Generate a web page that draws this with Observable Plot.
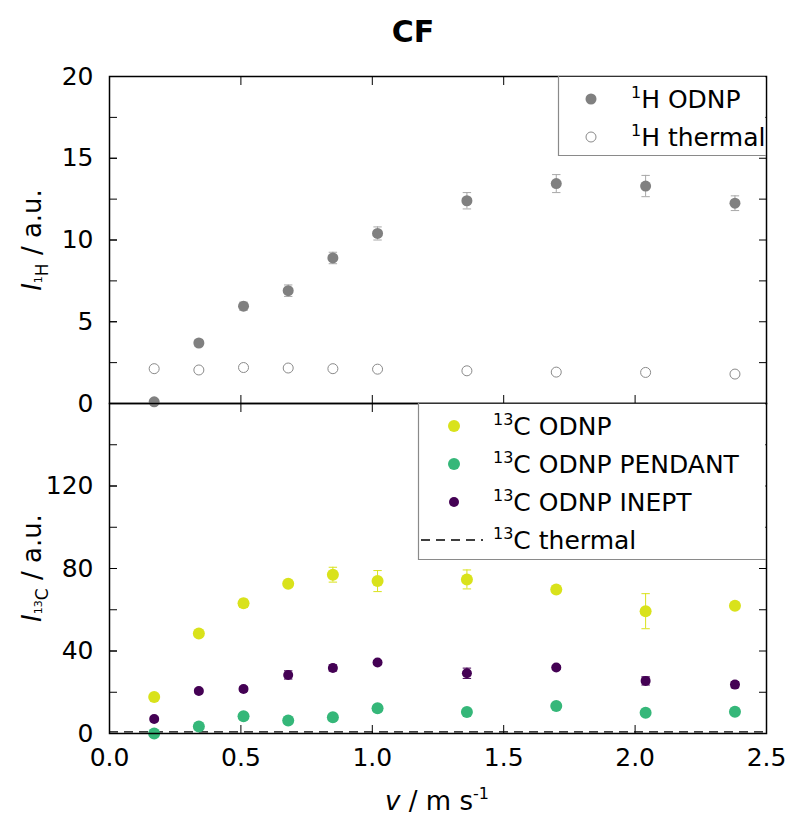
<!DOCTYPE html>
<html><head><meta charset="utf-8">
<script src="https://cdn.jsdelivr.net/npm/d3@7"></script>
<script src="https://cdn.jsdelivr.net/npm/@observablehq/plot@0.6"></script>
<style>
body{margin:0;background:#fff;}
#wrap{position:relative;width:787px;height:818px;overflow:hidden;background:#fff;}
#wrap svg{position:absolute;left:0;overflow:visible;}
</style></head><body><div id="wrap"></div>
<script>
// ---- data ----
const velocity   = [0.17, 0.34, 0.51, 0.68, 0.85, 1.02, 1.36, 1.70, 2.04, 2.38];
const hOdnp      = [0.1, 3.7, 5.95, 6.9, 8.9, 10.4, 12.4, 13.45, 13.3, 12.25];
const hOdnpErr   = [0.1, 0.2, 0.25, 0.35, 0.35, 0.4, 0.5, 0.55, 0.65, 0.45];
const hThermal   = [2.13, 2.05, 2.2, 2.17, 2.13, 2.1, 2.0, 1.92, 1.9, 1.8];
const cOdnp      = [17.7, 48.5, 63.1, 72.6, 77.0, 73.9, 74.7, 69.8, 59.3, 61.9];
const cOdnpErr   = [1.0, 1.0, 2.0, 1.5, 3.6, 5.1, 4.6, 1.5, 8.5, 1.5];
const cPendant   = [0.0, 3.4, 8.4, 6.3, 7.9, 12.2, 10.4, 13.3, 10.1, 10.5];
const cPendantErr= [0.5, 0.8, 1.0, 1.0, 1.0, 1.2, 1.0, 1.2, 1.0, 1.0];
const cInept     = [7.0, 20.6, 21.6, 28.4, 31.8, 34.4, 29.2, 32.0, 25.5, 23.7];
const cIneptErr  = [1.0, 1.0, 1.0, 2.0, 1.5, 1.0, 2.5, 1.0, 2.0, 1.5];
const cThermal   = [0.8];
const xTicks  = [0, 0.5, 1.0, 1.5, 2.0, 2.5];
const yTicksH = [0, 5, 10, 15, 20];
const yMinorH = [2.5, 7.5, 12.5, 17.5];
const yTicksC = [0, 40, 80, 120];
const yTicksCAll = [0, 40, 80, 120, 160];
const yMinorC = [20, 60, 100, 140];

const FONT = "DejaVu Sans";
const cGray = "#808080", cYellow = "#d9e21b", cGreen = "#35b779", cPurple = "#440154";
const cap = 0.016;

const topData = velocity.map((v, i) => ({v, odnp: hOdnp[i], err: hOdnpErr[i], thermal: hThermal[i]}));
const botData = velocity.map((v, i) => ({v, odnp: cOdnp[i], odnpErr: cOdnpErr[i], pend: cPendant[i], pendErr: cPendantErr[i], inept: cInept[i], ineptErr: cIneptErr[i]}));

function errMarks(data, key, ekey, color) {
  return [
    Plot.ruleX(data, {x: "v", y1: d => d[key] - d[ekey], y2: d => d[key] + d[ekey], stroke: color, strokeWidth: 1}),
    Plot.link(data, {x1: d => d.v - cap, x2: d => d.v + cap, y1: d => d[key] + d[ekey], y2: d => d[key] + d[ekey], stroke: color, strokeWidth: 1}),
    Plot.link(data, {x1: d => d.v - cap, x2: d => d.v + cap, y1: d => d[key] - d[ekey], y2: d => d[key] - d[ekey], stroke: color, strokeWidth: 1})
  ];
}
const noText = () => "";
function frameAxes(yMajor, yMinor, labelTicks, showX) {
  return [
    Plot.axisY(labelTicks, {anchor: "left", tickSize: -8, tickPadding: 24, label: null, fontSize: 25}),
    Plot.axisY(yMajor, {anchor: "left", tickSize: -8, tickFormat: noText, label: null}),
    Plot.axisY(yMinor, {anchor: "left", tickSize: -8, tickFormat: noText, label: null}),
    Plot.axisY(yMajor, {anchor: "right", tickSize: -8, tickFormat: noText, label: null}),
    Plot.axisY(yMinor, {anchor: "right", tickSize: -8, tickFormat: noText, label: null}),
    Plot.axisX(xTicks, {anchor: "top", tickSize: -8, tickFormat: noText, label: null}),
    showX
      ? Plot.axisX(xTicks, {anchor: "bottom", tickSize: -8, tickPadding: 23, label: null, fontSize: 25, tickFormat: d3.format(".1f")})
      : Plot.axisX(xTicks, {anchor: "bottom", tickSize: -8, tickFormat: noText, label: null})
  ];
}
const style = {fontFamily: FONT, fontSize: "25px", color: "black", background: "transparent", overflow: "visible"};

const topPlot = Plot.plot({
  width: 787, height: 403, marginLeft: 109, marginRight: 21, marginTop: 76, marginBottom: 0,
  style,
  x: {domain: [0, 2.5]}, y: {domain: [0, 20]},
  marks: [
    ...frameAxes(yTicksH, yMinorH, yTicksH, false),
    ...errMarks(topData, "odnp", "err", "#a8a8a8"),
    Plot.dot(topData, {x: "v", y: "thermal", r: 5, stroke: "#8a8a8a", fill: "white", strokeWidth: 1}),
    Plot.dot(topData, {x: "v", y: "odnp", r: 5.5, fill: cGray}),
    Plot.frame({stroke: "black", strokeWidth: 1.5})
  ]
});

const botPlot = Plot.plot({
  width: 787, height: 425, marginLeft: 109, marginRight: 21, marginTop: 10, marginBottom: 85,
  style,
  x: {domain: [0, 2.5]}, y: {domain: [0, 160]},
  marks: [
    ...frameAxes(yTicksCAll, yMinorC, yTicksC, true),
    Plot.ruleY(cThermal, {y: d => d, stroke: "black", strokeWidth: 1.4, strokeDasharray: "9,6"}),
    ...errMarks(botData, "odnp", "odnpErr", cYellow),
    ...errMarks(botData, "pend", "pendErr", cGreen),
    ...errMarks(botData, "inept", "ineptErr", cPurple),
    Plot.dot(botData, {x: "v", y: "odnp", r: 6, fill: cYellow}),
    Plot.dot(botData, {x: "v", y: "pend", r: 6, fill: cGreen}),
    Plot.dot(botData, {x: "v", y: "inept", r: 5, fill: cPurple}),
    Plot.frame({stroke: "black", strokeWidth: 1.5})
  ]
});

const wrap = document.getElementById("wrap");
botPlot.style.top = "393px";
topPlot.style.top = "0px";
wrap.appendChild(botPlot);
wrap.appendChild(topPlot);

// ---- overlay: title, axis titles, legends ----
const ov = d3.select(wrap).append("svg")
  .attr("width", 787).attr("height", 818)
  .style("top", "0px")
  .attr("font-family", FONT).attr("fill", "black");

ov.append("text").attr("x", 413).attr("y", 42).attr("text-anchor", "middle")
  .attr("font-size", 30).attr("font-weight", "bold").text("CF");

function yTitle(cy, sup, sub) {
  const t = ov.append("text").attr("transform", `translate(41,${cy}) rotate(-90)`)
    .attr("text-anchor", "middle").attr("font-size", 26);
  t.append("tspan").attr("font-style", "italic").text("I");
  t.append("tspan").attr("font-size", 11).attr("dy", 1).text(sup);
  t.append("tspan").attr("font-size", 17).attr("dy", 6).text(sub);
  t.append("tspan").attr("dy", -7).text(" / a.u.");
}
yTitle(240, "1", "H");
yTitle(568, "13", "C");

const xt = ov.append("text").attr("x", 437).attr("y", 810).attr("text-anchor", "middle").attr("font-size", 26);
xt.append("tspan").attr("font-style", "italic").text("v");
xt.append("tspan").text(" / m s");
xt.append("tspan").attr("font-size", 16).attr("dy", -11).text("-1");

function legendText(x, y, sup, rest) {
  const t = ov.append("text").attr("x", x).attr("y", y).attr("font-size", 25);
  t.append("tspan").attr("font-size", 16).attr("dy", -10).text(sup);
  t.append("tspan").attr("dy", 10).text(rest);
}

// top legend
ov.append("rect").attr("x", 558).attr("y", 76.8).attr("width", 207.2).attr("height", 78.2).attr("fill", "white");
ov.append("path").attr("d", "M558.5,76V155.5H766").attr("fill", "none").attr("stroke", "#8a8a8a").attr("stroke-width", 1.2);
ov.append("circle").attr("cx", 591).attr("cy", 99).attr("r", 5.5).attr("fill", cGray);
ov.append("circle").attr("cx", 591).attr("cy", 137).attr("r", 5).attr("fill", "white").attr("stroke", "#8a8a8a");
legendText(631, 108, "1", "H ODNP");
legendText(631, 146, "1", "H thermal");

// bottom legend
ov.append("rect").attr("x", 418).attr("y", 403.8).attr("width", 347.2).attr("height", 155.2).attr("fill", "white");
ov.append("path").attr("d", "M418.5,403V559.5H766").attr("fill", "none").attr("stroke", "#8a8a8a").attr("stroke-width", 1.2);
ov.append("circle").attr("cx", 454).attr("cy", 426).attr("r", 6).attr("fill", cYellow);
ov.append("circle").attr("cx", 454).attr("cy", 464).attr("r", 6).attr("fill", cGreen);
ov.append("circle").attr("cx", 454).attr("cy", 502).attr("r", 5).attr("fill", cPurple);
ov.append("line").attr("x1", 421).attr("x2", 483).attr("y1", 540).attr("y2", 540)
  .attr("stroke", "black").attr("stroke-width", 1.4).attr("stroke-dasharray", "9,6");
legendText(493, 435, "13", "C ODNP");
legendText(493, 473, "13", "C ODNP PENDANT");
legendText(493, 511, "13", "C ODNP INEPT");
legendText(493, 549, "13", "C thermal");
</script></body></html>
